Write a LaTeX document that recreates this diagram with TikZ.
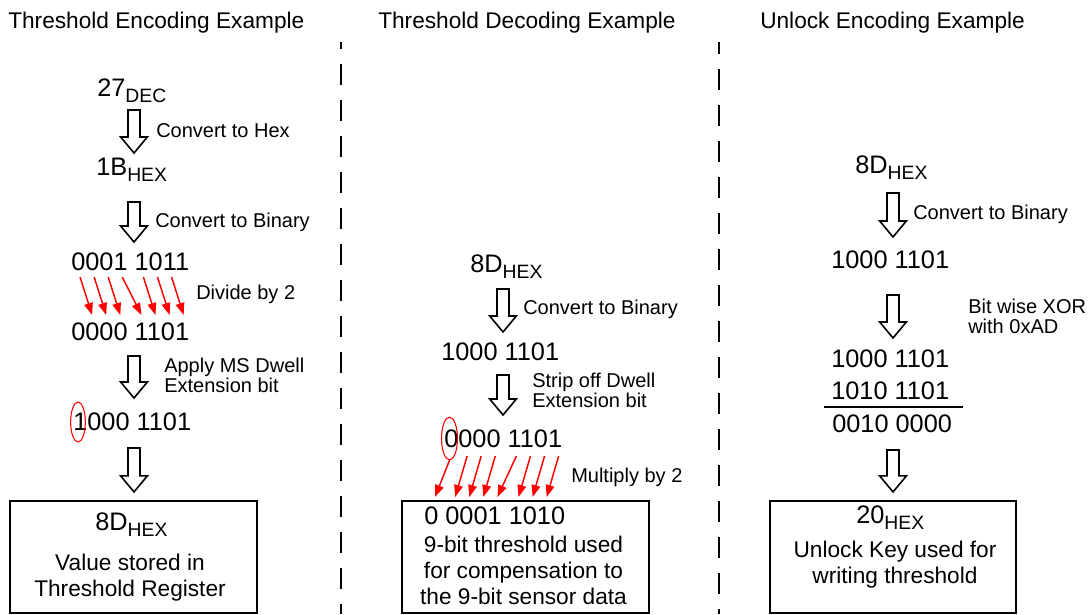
\documentclass[tikz,border=0pt]{standalone}
\usepackage{fontspec}
\setmainfont{Liberation Sans}
\usetikzlibrary{calc,positioning,shapes.geometric,arrows.meta}
\usepackage{xcolor}
\definecolor{BitRed}{HTML}{FF0000}
\newcommand{\lowsub}[1]{\raisebox{-4.5pt}{\fontsize{14.5}{16}\selectfont #1}}

\begin{document}
\begin{tikzpicture}[x=0.75pt,y=-0.75pt,
  ttl/.style={inner sep=0,anchor=base west,font=\fontsize{17}{20}\selectfont},
  val/.style={inner sep=0,anchor=base west,font=\fontsize{19}{22}\selectfont},
  lbl/.style={inner sep=0,anchor=base west,align=left,font=\fontsize{15}{15}\selectfont},
  boxtxt/.style={inner sep=0,anchor=base,align=center,font=\fontsize{17}{19.5}\selectfont},
  box/.style={draw,line width=1.6pt,minimum width=185pt,minimum height=84pt,inner sep=0},
  hollow/.style={draw,line width=1.2pt,to path={let \p1=(\tikztostart),\p2=(\tikztotarget) in
    (\x1-4.5pt,\y1) -- (\x1+4.5pt,\y1) -- (\x1+4.5pt,\y2+12pt) -- (\x1+10pt,\y2+12pt) -- (\x1,\y2) -- (\x1-10pt,\y2+12pt) -- (\x1-4.5pt,\y2+12pt) -- cycle}},
  redarr/.style={draw=BitRed,line width=1.1pt,-{Triangle[length=9pt,width=6.5pt]}},
  bitmark/.style={draw=BitRed,line width=0.8pt,ellipse,inner sep=0},
  sep/.style={line width=1.6pt,dash pattern=on 15.75pt off 11.25pt}]
\useasboundingbox (0,0) rectangle (1091,614);
\fill[white] (0,0) rectangle (1091,614);

\node[ttl] (t1) at (8,28) {Threshold Encoding Example};
\node[ttl] (t2) at (378,28) {Threshold Decoding Example};
\node[ttl] (t3) at (760,28) {Unlock Encoding Example};
\draw[sep,dash phase=10.5pt] (341,42) -- (341,614);
\draw[sep,dash phase=6.75pt] (719,42) -- (719,614);

\coordinate (ca) at (134,0);
\coordinate (cb) at (503,0);
\coordinate (cc) at (893,0);

\node[val] (dec) at (97,96) {27\lowsub{DEC}};
\node[val] (hexa) at (96,175) {1B\lowsub{HEX}};
\node[val] (bina) at (71,270) {0001 1011};
\node[val] (binb) at (71,340) {0000 1101};
\node[val] (binc) at (73,430) {1000 1101};
\node[lbl] (la1) at (156,137) {Convert to Hex};
\node[lbl] (la2) at (155,227) {Convert to Binary};
\node[lbl] (la3) at (196,299) {Divide by 2};
\node[lbl] (la4) at (164,392) {Apply MS Dwell\\Extension bit};
\node[bitmark,minimum width=11pt,minimum height=30pt] (marka) at ($(binc.base west)+(5,-8)$) {};
\node[box] (boxa) at (133.5,557) {};
\node[val] (resa) at (95,530) {8D\lowsub{HEX}};
\node[boxtxt] (nota) at (130,596) {Value stored in\\Threshold Register};

\node[val] (hexb) at (470,272) {8D\lowsub{HEX}};
\node[val] (bind) at (441,360) {1000 1101};
\node[val] (bine) at (444,447) {0000 1101};
\node[lbl] (lb1) at (523,314) {Convert to Binary};
\node[lbl] (lb2) at (532,407) {Strip off Dwell\\Extension bit};
\node[lbl] (lb3) at (571,482) {Multiply by 2};
\node[bitmark,minimum width=12pt,minimum height=32pt] (markb) at ($(bine.base west)+(5.5,-8.5)$) {};
\node[box] (boxb) at (525.5,557) {};
\node[val] (resb) at (424,524) {0 0001 1010};
\node[boxtxt] (notb) at (523.5,604) {9-bit threshold used\\for compensation to\\the 9-bit sensor data};

\node[val] (hexc) at (855,173) {8D\lowsub{HEX}};
\node[val] (binf) at (831,268) {1000 1101};
\node[val] (bing) at (831,367) {1000 1101};
\node[val] (key) at (831,399) {1010 1101};
\node[val] (resc) at (832,432) {0010 0000};
\node[lbl] (lc1) at (913,219) {Convert to Binary};
\node[lbl] (lc2) at (968,333) {Bit wise XOR\\with 0xAD};
\draw[line width=1.3pt] ($(key.base west)+(-7,8)$) -- ($(key.base east)+(14,8)$);
\node[box] (boxc) at (893,557) {};
\node[val] (resd) at (856,523) {20\lowsub{HEX}};
\node[boxtxt] (notc) at (895,583) {Unlock Key used for\\writing threshold};

\draw[hollow] ($(dec.base -| ca)+(0,14)$) to ($(hexa.base -| ca)+(0,-22)$);
\draw[hollow] ($(hexa.base -| ca)+(0,27)$) to ($(bina.base -| ca)+(0,-28)$);
\draw[hollow] ($(binb.base -| ca)+(0,16)$) to ($(binc.base -| ca)+(0,-32)$);
\draw[hollow] ($(binc.base -| ca)+(0,18)$) to ($(boxa.north -| ca)+(0,-8)$);
\draw[hollow] ($(hexb.base -| cb)+(0,17)$) to ($(bind.base -| cb)+(0,-28)$);
\draw[hollow] ($(bind.base -| cb)+(0,15)$) to ($(bine.base -| cb)+(0,-32)$);
\draw[hollow] ($(hexc.base -| cc)+(0,20)$) to ($(binf.base -| cc)+(0,-31)$);
\draw[hollow] ($(binf.base -| cc)+(0,27)$) to ($(bing.base -| cc)+(0,-29)$);
\draw[hollow] ($(resc.base -| cc)+(0,18)$) to ($(boxc.north -| cc)+(0,-8)$);

\foreach \i in {0,...,6}{
  \pgfmathsetmacro\xa{(\i+0.5)*14.08+(\i>3)*7.04+2}
  \pgfmathsetmacro\xb{(\i+1.5)*14.08+(\i>2)*7.04}
  \draw[redarr] ($(bina.base west)+(\xa,7)$) -- ($(binb.base west)+(\xb,-25)$);
}
\draw[redarr] (markb.south) -- ($(resb.base west)+(11,-27)$);
\foreach \i in {1,...,7}{
  \pgfmathsetmacro\xa{(\i+0.5)*14.08+(\i>3)*7.04+2}
  \pgfmathsetmacro\xb{(\i+0.5)*14.08+(\i>0)*7.04+(\i>4)*7.04+3}
  \draw[redarr] ($(bine.base west)+(\xa,9)$) -- ($(resb.base west)+(\xb,-27)$);
}
\end{tikzpicture}
\end{document}
